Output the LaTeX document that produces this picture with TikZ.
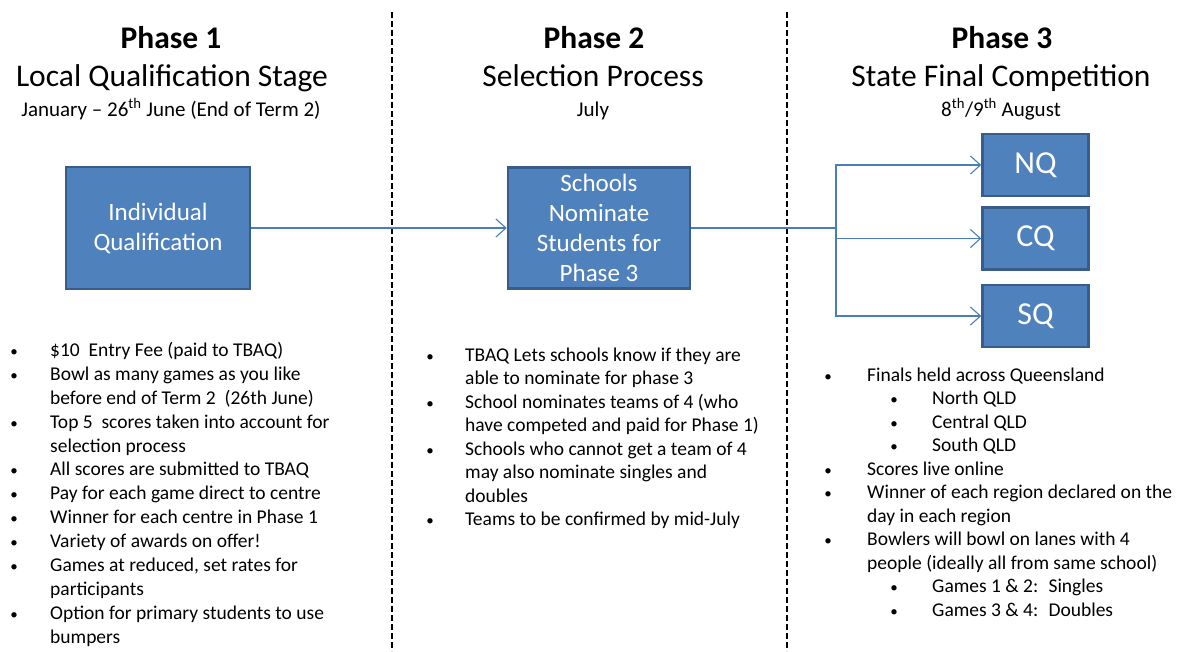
\documentclass[tikz,border=0pt]{standalone}
\usepackage{fontspec}
\setmainfont{Carlito}
\usetikzlibrary{arrows.meta}
\definecolor{boxfill}{HTML}{4F81BD}
\definecolor{boxline}{HTML}{385D8A}
\definecolor{conn}{HTML}{4A7EBB}
\tikzset{
  bx/.style={draw=boxline, fill=boxfill, line width=2.5pt, text=white, align=center, inner sep=0pt},
  hd/.style={anchor=base, font=\fontsize{31.5}{37}\selectfont, inner sep=0pt},
  hdb/.style={hd, font=\fontsize{31.5}{37}\selectfont\bfseries},
  dt/.style={anchor=base, font=\fontsize{21}{25}\selectfont, inner sep=0pt},
  ln/.style={anchor=base west, font=\fontsize{19.5}{23.8}\selectfont, inner sep=0pt},
  bul/.style={anchor=base, font=\fontsize{15}{18}\selectfont, inner sep=0pt},
  conline/.style={draw=conn, line width=1.3pt},
  arr/.style={conline, -{Straight Barb[length=10pt,width=18pt,line width=1.1pt]}},
  sep/.style={draw=black, line width=1.1pt, dash pattern=on 6pt off 3pt}
}
\begin{document}
\begin{tikzpicture}[x=1pt,y=-1pt]
\useasboundingbox (0,0) rectangle (1181,651);
% separators
\draw[sep] (392,12) -- (392,651);
\draw[sep] (787,12) -- (787,651);
% headers
\node[hdb] (h1a) at (171,48) {Phase 1};
\node[hd] (h1b) at (172,86) {Local Qualification Stage};
\node[dt] (h1c) at (171,116) {January – 26\textsuperscript{th} June (End of Term 2)};
\node[hdb] (h2a) at (594,48) {Phase 2};
\node[hd] (h2b) at (593,86) {Selection Process};
\node[dt] (h2c) at (593,116) {July};
\node[hdb] (h3a) at (1002,48) {Phase 3};
\node[hd] (h3b) at (1001,86) {State Final Competition};
\node[dt] (h3c) at (1001,116) {8\textsuperscript{th}/9\textsuperscript{th} August};
% boxes
\node[bx, minimum width=184pt, minimum height=122pt, font=\fontsize{25}{30}\selectfont] (b1) at (158,228) {Individual\\Qualification};
\node[bx, minimum width=182pt, minimum height=121pt, font=\fontsize{25}{30}\selectfont] (b2) at (599,228) {Schools\\Nominate\\Students for\\Phase 3};
\node[bx, minimum width=106pt, minimum height=62pt, font=\fontsize{32}{36}\selectfont] (nq) at (1035.5,165) {NQ};
\node[bx, minimum width=106pt, minimum height=62pt, font=\fontsize{32}{36}\selectfont] (cq) at (1035.5,238.5) {CQ};
\node[bx, minimum width=106pt, minimum height=62pt, font=\fontsize{32}{36}\selectfont] (sq) at (1035.5,316) {SQ};
% connectors
\draw[arr] (b1.east) -- (b2.west);
\coordinate (j) at (836,228);
\draw[conline] (b2.east) -- (j);
\draw[arr] (j) |- (nq.west);
\draw[arr] (j) |- (sq.west);
\draw[arr] (j|-cq.west) -- (cq.west);
% Phase 1 list
\node[bul] (p1b1) at (14,356) {•};
\node[ln] (p1l1) at (50,356) {\$10\ \ Entry Fee (paid to TBAQ)};
\node[bul] (p1b2) at (14,380) {•};
\node[ln] (p1l2) at (50,380) {Bowl as many games as you like};
\node[ln] (p1l3) at (50,404) {before end of Term 2 \ (26th June)};
\node[bul] (p1b4) at (14,428) {•};
\node[ln] (p1l4) at (50,428) {Top 5 \ scores taken into account for};
\node[ln] (p1l5) at (50,452) {selection process};
\node[bul] (p1b6) at (14,475.5) {•};
\node[ln] (p1l6) at (50,475.5) {All scores are submitted to TBAQ};
\node[bul] (p1b7) at (14,499) {•};
\node[ln] (p1l7) at (50,499) {Pay for each game direct to centre};
\node[bul] (p1b8) at (14,523) {•};
\node[ln] (p1l8) at (50,523) {Winner for each centre in Phase 1};
\node[bul] (p1b9) at (14,547) {•};
\node[ln] (p1l9) at (50,547) {Variety of awards on offer!};
\node[bul] (p1b10) at (14,571) {•};
\node[ln] (p1l10) at (50,571) {Games at reduced, set rates for};
\node[ln] (p1l11) at (50,595) {participants};
\node[bul] (p1b12) at (14,619) {•};
\node[ln] (p1l12) at (50,619) {Option for primary students to use};
\node[ln] (p1l13) at (50,643) {bumpers};
% Phase 2 list
\node[bul] (p2b1) at (430,361) {•};
\node[ln] (p2l1) at (465,361) {TBAQ Lets schools know if they are};
\node[ln] (p2l2) at (465,384) {able to nominate for phase 3};
\node[bul] (p2b3) at (430,408) {•};
\node[ln] (p2l3) at (465,408) {School nominates teams of 4 (who};
\node[ln] (p2l4) at (465,431.5) {have competed and paid for Phase 1)};
\node[bul] (p2b5) at (430,455) {•};
\node[ln] (p2l5) at (465,455) {Schools who cannot get a team of 4};
\node[ln] (p2l6) at (465,478.5) {may also nominate singles and};
\node[ln] (p2l7) at (465,502) {doubles};
\node[bul] (p2b8) at (430,525.5) {•};
\node[ln] (p2l8) at (465,525.5) {Teams to be confirmed by mid-July};
% Phase 3 list
\node[bul] (p3b1) at (828,381) {•};
\node[ln] (p3l1) at (867,381) {Finals held across Queensland};
\node[bul] (p3s1) at (894,404.5) {•};
\node[ln] (p3l2) at (932,404.5) {North QLD};
\node[bul] (p3s2) at (894,428) {•};
\node[ln] (p3l3) at (932,428) {Central QLD};
\node[bul] (p3s3) at (894,451.5) {•};
\node[ln] (p3l4) at (932,451.5) {South QLD};
\node[bul] (p3b5) at (828,475) {•};
\node[ln] (p3l5) at (867,475) {Scores live online};
\node[bul] (p3b6) at (828,498.5) {•};
\node[ln] (p3l6) at (867,498.5) {Winner of each region declared on the};
\node[ln] (p3l7) at (867,522) {day in each region};
\node[bul] (p3b8) at (828,545.5) {•};
\node[ln] (p3l8) at (867,545.5) {Bowlers will bowl on lanes with 4};
\node[ln] (p3l9) at (867,569) {people (ideally all from same school)};
\node[bul] (p3s4) at (894,592.5) {•};
\node[ln] (p3l10) at (932,592.5) {Games 1 \& 2: \ Singles};
\node[bul] (p3s5) at (894,616) {•};
\node[ln] (p3l11) at (932,616) {Games 3 \& 4: \ Doubles};
\end{tikzpicture}
\end{document}
